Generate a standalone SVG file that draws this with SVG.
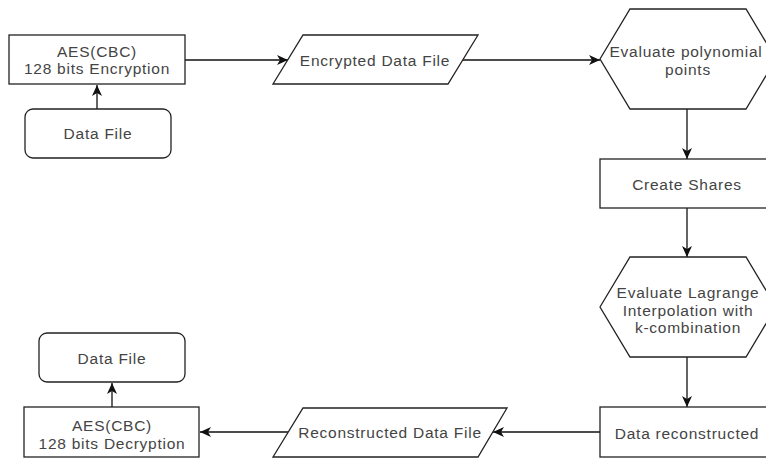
<svg xmlns="http://www.w3.org/2000/svg" width="766" height="458" viewBox="0 0 766 458">
<style>
.s{fill:#fff;stroke:#222;stroke-width:1.3}
.t{font-family:"Liberation Sans",Arial,sans-serif;font-size:15.5px;letter-spacing:0.75px;fill:#444;text-anchor:middle}
.c{fill:none;stroke:#111;stroke-width:1.3}
</style>
<defs>
<marker id="a" markerUnits="userSpaceOnUse" markerWidth="12" markerHeight="10" refX="11" refY="5" orient="auto">
<path d="M0,0 L11,5 L0,10 L3,5 z" fill="#111"/>
</marker>
</defs>
<rect width="766" height="458" fill="#fff"/>
<g id="connectors">
<line class="c" x1="97" y1="109" x2="97" y2="85" marker-end="url(#a)"/>
<line class="c" x1="185" y1="60" x2="288" y2="60" marker-end="url(#a)"/>
<line class="c" x1="463" y1="60" x2="600" y2="60" marker-end="url(#a)"/>
<line class="c" x1="687" y1="109" x2="687" y2="159" marker-end="url(#a)"/>
<line class="c" x1="687" y1="208" x2="687" y2="257" marker-end="url(#a)"/>
<line class="c" x1="687" y1="357" x2="687" y2="407" marker-end="url(#a)"/>
<line class="c" x1="600" y1="432" x2="493" y2="432" marker-end="url(#a)"/>
<line class="c" x1="288" y1="432" x2="200" y2="432" marker-end="url(#a)"/>
<line class="c" x1="112" y1="407" x2="112" y2="383" marker-end="url(#a)"/>
</g>
<g id="aes-enc">
<rect class="s" x="9" y="35" width="176" height="49"/>
<text class="t" x="97" y="56.5">AES(CBC)</text>
<text class="t" x="97" y="74">128 bits Encryption</text>
</g>
<g id="data-file-1">
<rect class="s" x="25" y="109" width="146" height="49" rx="8"/>
<text class="t" x="98" y="139">Data File</text>
</g>
<g id="encrypted">
<polygon class="s" points="303,35 478,35 448,84 273,84"/>
<text class="t" x="375" y="66">Encrypted Data File</text>
</g>
<g id="eval-poly">
<polygon class="s" points="600,59 630,9 746,9 776,59 746,109 630,109"/>
<text class="t" x="686" y="57">Evaluate polynomial</text>
<text class="t" x="688" y="74.5">points</text>
</g>
<g id="create-shares">
<rect class="s" x="600" y="159" width="174" height="49"/>
<text class="t" x="687" y="190">Create Shares</text>
</g>
<g id="lagrange">
<polygon class="s" points="600,307 630,257 746,257 776,307 746,357 630,357"/>
<text class="t" x="688" y="298">Evaluate Lagrange</text>
<text class="t" x="688" y="315.5">Interpolation with</text>
<text class="t" x="688" y="333">k-combination</text>
</g>
<g id="data-reconstructed">
<rect class="s" x="600" y="407" width="174" height="50"/>
<text class="t" x="687" y="439">Data reconstructed</text>
</g>
<g id="reconstructed-file">
<polygon class="s" points="303,408 507,408 478,457 273,457"/>
<text class="t" x="390" y="438">Reconstructed Data File</text>
</g>
<g id="aes-dec">
<rect class="s" x="24" y="407" width="175" height="50"/>
<text class="t" x="112" y="431">AES(CBC)</text>
<text class="t" x="112" y="448.5">128 bits Decryption</text>
</g>
<g id="data-file-2">
<rect class="s" x="39" y="333" width="146" height="49" rx="8"/>
<text class="t" x="112" y="364">Data File</text>
</g>
</svg>
